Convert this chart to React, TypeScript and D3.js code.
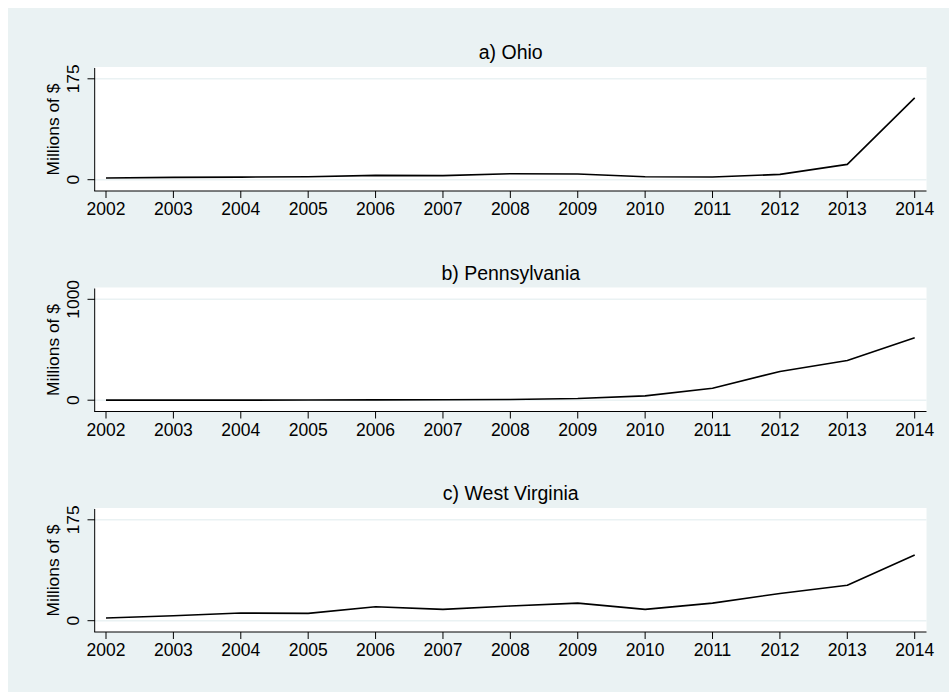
import React from 'react';
import * as d3 from 'd3';

// years on the x axis
const years = [2002, 2003, 2004, 2005, 2006, 2007, 2008, 2009, 2010, 2011, 2012, 2013, 2014];

// millions of $
const ohio = [3, 4, 4.5, 5, 7.5, 7, 10.4, 9.9, 5.2, 4.7, 9.2, 26.6, 142];
const pennsylvania = [0.5, 0.5, 1, 2, 3, 4, 7, 17, 43, 119, 285, 394, 619];
const westVirginia = [4.7, 8.6, 13.3, 12.7, 24.2, 19.7, 25.4, 30.5, 19.7, 30.5, 47.3, 61.6, 114];

const panelTitles = ['a) Ohio', 'b) Pennsylvania', 'c) West Virginia'];
const panelTicks = [[0, 175], [0, 1000], [0, 175]];
const panelSeries = [ohio, pennsylvania, westVirginia];

const W = 949;
const H = 692;
const font = '"Liberation Sans", Arial, Helvetica, sans-serif';
const bg = '#eaf2f3';

const plotLeft = 95;
const plotRight = 926.5;
const panelTops = [67, 287.5, 508];

const x = d3.scaleLinear().domain([2002, 2014]).range([106, 914.7]);

const Panel = ({ top, title, ticks, values }) => {
  const axisY = top + 124;
  const y = d3.scaleLinear().domain([ticks[0], ticks[1]]).range([top + 112.7, top + 11.8]);
  const line = d3.line<number>()
    .x((d, i) => x(years[i]))
    .y(d => y(d));

  return (
    <g>
      <rect x={plotLeft} y={top} width={plotRight - plotLeft} height={124} fill="#ffffff" />
      {ticks.map(t => (
        <line key={'g' + t} x1={plotLeft} x2={plotRight} y1={y(t)} y2={y(t)} stroke={bg} strokeWidth={1.6} />
      ))}
      <text x={(plotLeft + plotRight) / 2} y={top - 8} textAnchor="middle" fontFamily={font} fontSize={19.5} fill="#000">
        {title}
      </text>

      {/* y axis */}
      <line x1={plotLeft - 0.3} x2={plotLeft - 0.3} y1={top + 1} y2={axisY} stroke="#000" strokeWidth={1} />
      {ticks.map(t => (
        <g key={'y' + t}>
          <line x1={plotLeft - 7.5} x2={plotLeft} y1={y(t)} y2={y(t)} stroke="#000" strokeWidth={1} />
          <text
            transform={`translate(79.3,${y(t)}) rotate(-90)`}
            textAnchor="middle"
            fontFamily={font}
            fontSize={17.4}
            fill="#000"
          >
            {t}
          </text>
        </g>
      ))}
      <text
        transform={`translate(59.3,${top + 62.5}) rotate(-90)`}
        textAnchor="middle"
        fontFamily={font}
        fontSize={17.4}
        fill="#000"
      >
        Millions of $
      </text>

      {/* x axis */}
      <line x1={plotLeft - 0.8} x2={plotRight} y1={axisY} y2={axisY} stroke="#000" strokeWidth={1} />
      {years.map(yr => (
        <g key={'x' + yr}>
          <line x1={x(yr)} x2={x(yr)} y1={axisY} y2={axisY + 7} stroke="#000" strokeWidth={1} />
          <text x={x(yr)} y={axisY + 24} textAnchor="middle" fontFamily={font} fontSize={17.5} fill="#000">
            {yr}
          </text>
        </g>
      ))}

      <path d={line(values) || ''} fill="none" stroke="#000" strokeWidth={1.6} strokeLinejoin="round" />
    </g>
  );
};

export default function App() {
  return (
    <svg
      width={W}
      height={H}
      style={{ position: 'absolute', left: 0, top: 0, display: 'block' }}
    >
      <rect x={0} y={0} width={W} height={H} fill="#ffffff" />
      <rect x={8} y={8} width={W - 8} height={H - 8} fill={bg} />
      {panelTops.map((top, i) => (
        <Panel key={i} top={top} title={panelTitles[i]} ticks={panelTicks[i]} values={panelSeries[i]} />
      ))}
    </svg>
  );
}
